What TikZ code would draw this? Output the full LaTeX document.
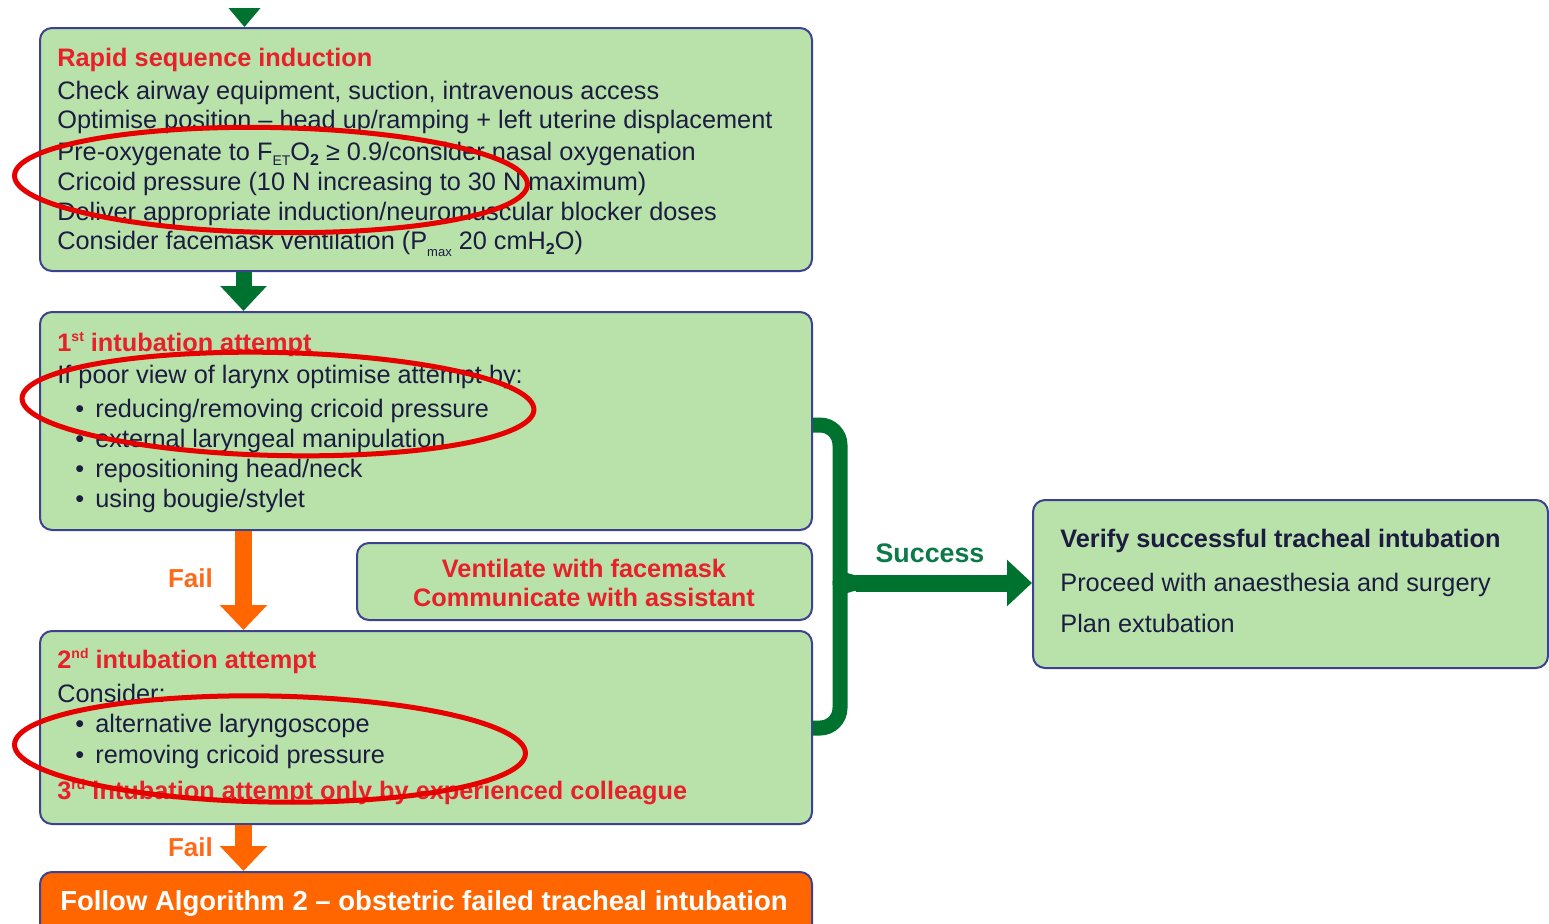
\documentclass[tikz,border=0pt]{standalone}
\usepackage{fontspec}
\setmainfont{Liberation Sans}
\usetikzlibrary{arrows.meta,shapes.geometric,fit}
\definecolor{boxfill}{HTML}{B9E1AA}
\definecolor{boxline}{HTML}{3D4290}
\definecolor{garrow}{HTML}{00722F}
\definecolor{oarrow}{HTML}{FF6600}
\definecolor{failtxt}{HTML}{FF6A1A}
\definecolor{redtxt}{HTML}{E8202A}
\definecolor{bodytxt}{HTML}{1C1C40}
\definecolor{succtxt}{HTML}{0B7A48}
\definecolor{ellred}{HTML}{E60000}
\newcommand{\mysup}[1]{\raisebox{4.6pt}{\fontsize{7}{8}\selectfont #1}}
\newcommand{\mysub}[1]{\raisebox{-2.6pt}{\fontsize{7}{8}\selectfont #1}}
\begin{document}
\begin{tikzpicture}[x=0.5pt,y=-0.5pt,
  box/.style={draw=boxline, fill=boxfill, line width=1pt, rounded corners=6pt, inner sep=0pt},
  obox/.style={draw=boxline, fill=oarrow, line width=1pt, rounded corners=6pt, inner sep=0pt},
  txt/.style={anchor=base west, inner sep=0pt, text=bodytxt, font=\fontsize{12.65}{15}\selectfont},
  bul/.style={anchor=base west, inner sep=0pt, text=bodytxt, font=\fontsize{12.65}{15}\selectfont},
  head/.style={anchor=base west, inner sep=0pt, text=redtxt, font=\fontsize{12.65}{15}\selectfont\bfseries},
  chead/.style={anchor=base, inner sep=0pt, text=redtxt, font=\fontsize{12.65}{15}\selectfont\bfseries},
  bhead/.style={anchor=base west, inner sep=0pt, text=bodytxt, font=\fontsize{12.65}{15}\selectfont\bfseries},
  failtext/.style={anchor=base, inner sep=0pt, text=failtxt, font=\fontsize{13}{15}\selectfont\bfseries},
  succtext/.style={anchor=base, inner sep=0pt, text=succtxt, font=\fontsize{13.4}{15}\selectfont\bfseries},
  algtext/.style={anchor=base, inner sep=0pt, text=white, font=\fontsize{13.75}{16}\selectfont\bfseries},
  gconn/.style={draw=garrow, line width=8pt, -{Triangle[width=22.5pt,length=12.5pt]}},
  oconn/.style={draw=oarrow, line width=8.5pt, -{Triangle[width=23pt,length=12.5pt]}},
  bracket/.style={draw=garrow, line width=7.5pt, rounded corners=10pt},
  sconn/.style={draw=garrow, line width=8.5pt, -{Triangle[width=22.5pt,length=12.5pt]}},
  ell/.style={ellipse, draw=ellred, line width=2.5pt, inner sep=0pt}
]
\useasboundingbox (0,0) rectangle (1549,923);
\clip (0,0) rectangle (1549,923);

% boxes
\node[box, fit={(40,28) (812,271)}] (b1) {};
\node[box, fit={(40,312) (812,530)}] (b2) {};
\node[box, fit={(357,543) (812,620)}] (vb) {};
\node[box, fit={(40,631) (812,824)}] (b3) {};
\node[obox, fit={(40,872) (812,960)}] (ob) {};
\node[box, fit={(1033,500) (1548,668)}] (rb) {};

% box 1 text
\node[head] (t1h) at (57,66) {Rapid sequence induction};
\node[txt] (t1a) at (57,99) {Check airway equipment, suction, intravenous access};
\node[txt] (t1b) at (57,128) {Optimise position – head up/ramping + left uterine displacement};
\node[txt] (t1c) at (57,160) {Pre-oxygenate to F\mysub{ET}O\mysub{\fontsize{8}{9}\selectfont\bfseries 2} ≥ 0.9/consider nasal oxygenation};
\node[txt] (t1d) at (57,190) {Cricoid pressure (10 N increasing to 30 N maximum)};
\node[txt] (t1e) at (57,220) {Deliver appropriate induction/neuromuscular blocker doses};
\node[txt] (t1f) at (57,249) {Consider facemask ventilation (P\raisebox{-3.8pt}{\fontsize{6.5}{7}\selectfont max} 20 cmH\mysub{\fontsize{8}{9}\selectfont\bfseries 2}O)};

% box 2 text
\node[head] (t2h) at (57,351) {1\mysup{st} intubation attempt};
\node[txt] (t2a) at (57,383) {If poor view of larynx optimise attempt by:};
\node[bul] (u2a) at (75,417) {•};
\node[txt] (t2b) at (95,417) {reducing/removing cricoid pressure};
\node[bul] (u2b) at (75,447) {•};
\node[txt] (t2c) at (95,447) {external laryngeal manipulation};
\node[bul] (u2c) at (75,477) {•};
\node[txt] (t2d) at (95,477) {repositioning head/neck};
\node[bul] (u2d) at (75,507) {•};
\node[txt] (t2e) at (95,507) {using bougie/stylet};

% ventilate box
\node[chead] (v1) at (584,577) {Ventilate with facemask};
\node[chead] (v2) at (584,606) {Communicate with assistant};

% box 3 text
\node[head] (t3h) at (57,668) {2\mysup{nd} intubation attempt};
\node[txt] (t3a) at (57,702) {Consider:};
\node[bul] (u3a) at (75,732) {•};
\node[txt] (t3b) at (95,732) {alternative laryngoscope};
\node[bul] (u3b) at (75,763) {•};
\node[txt] (t3c) at (95,763) {removing cricoid pressure};
\node[head] (t3d) at (57,799) {3\mysup{rd} intubation attempt only by experienced colleague};

% orange box text
\node[algtext] (alg) at (424,910) {Follow Algorithm 2 – obstetric failed tracheal intubation};

% right box text
\node[bhead] (r1) at (1060,547) {Verify successful tracheal intubation};
\node[txt] (r2) at (1060,591) {Proceed with anaesthesia and surgery};
\node[txt] (r3) at (1060,632) {Plan extubation};

% top arrowhead
\coordinate (start) at (244.5,8);
\fill[garrow] ([xshift=-8pt]start) -- ([xshift=8pt]start) -- (start |- b1.north) -- cycle;

% vertical connectors
\draw[gconn] ([xshift=102.25pt]b1.south west) -- ([xshift=102.25pt]b2.north west);
\draw[oconn] ([xshift=102.25pt]b2.south west) -- ([xshift=102.25pt]b3.north west);
\draw[oconn] ([xshift=102.25pt]b3.south west) -- ([xshift=102.25pt]ob.north west);
\node[failtext] (f1) at (190.5,587) {Fail};
\node[failtext] (f2) at (190.5,856) {Fail};

% success bracket
\coordinate (J) at (840,583);
\draw[bracket] ([yshift=-57pt]b2.north east) -| ([yshift=9pt]J) to[out=-90,in=180] ([xshift=9pt]J);
\draw[bracket] ([yshift=-49pt]b3.north east) -| ([yshift=-9pt]J) to[out=90,in=180] ([xshift=9pt]J);
\draw[sconn] ([xshift=8pt]J) -- (J -| rb.west);
\node[succtext] (succ) at (930,562) {Success};

% red annotation ellipses
\node[ell, minimum width=256.5pt, minimum height=52.5pt, rotate=-1] (e1) at (271,180) {};
\node[ell, minimum width=256pt, minimum height=51.5pt, rotate=-1.3] (e2) at (278,404) {};
\node[ell, minimum width=255.5pt, minimum height=53pt, rotate=-1] (e3) at (270,749) {};
\end{tikzpicture}
\end{document}
